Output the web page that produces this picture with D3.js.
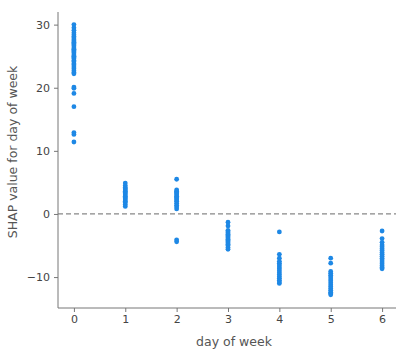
<!DOCTYPE html>
<html>
<head>
<meta charset="utf-8">
<script src="https://cdn.jsdelivr.net/npm/d3@7"></script>
<style>
  html, body { margin: 0; padding: 0; background: #fff; }
  svg { display: block; font-family: "DejaVu Sans", sans-serif; }
</style>
</head>
<body>
<svg id="chart" width="396" height="354"></svg>
<script>
// SHAP values for the "day of week" feature, grouped by day (0 = Monday ... 6 = Sunday)
const days = [0, 1, 2, 3, 4, 5, 6];
const shapDay0 = [30.0, 29.5, 29.1, 28.7, 28.4, 28.1, 27.9, 27.6, 27.4, 27.2, 27.0, 26.8, 26.6, 26.3, 26.1,
  25.9, 25.7, 25.5, 25.2, 25.0, 24.8, 24.6, 24.3, 24.1, 23.8, 23.6, 23.3, 23.0, 22.7, 22.4, 22.2,
  20.1, 19.9, 19.1, 17.0, 12.9, 12.6, 11.4];
const shapDay1 = [4.9, 4.5, 4.2, 4.0, 3.8, 3.6, 3.4, 3.2, 3.0, 2.8, 2.6, 2.4, 2.2, 2.0, 1.8, 1.5, 1.2];
const shapDay2 = [5.5, 3.8, 3.6, 3.4, 3.2, 3.0, 2.8, 2.6, 2.4, 2.2, 2.0, 1.7, 1.4, 1.1, 0.8, -4.1, -4.4];
const shapDay3 = [-1.3, -1.9, -2.6, -2.8, -3.0, -3.2, -3.4, -3.6, -3.8, -4.0, -4.2, -4.4, -4.6, -4.8, -5.0, -5.3, -5.6];
const shapDay4 = [-2.85, -6.4, -7.0, -7.5, -7.8, -8.1, -8.4, -8.7, -9.0, -9.3, -9.6, -9.9, -10.2, -10.5, -10.8, -11.0];
const shapDay5 = [-7.0, -7.8, -9.1, -9.4, -9.7, -10.0, -10.3, -10.6, -10.9, -11.2, -11.5, -11.8, -12.1, -12.4, -12.6, -12.8];
const shapDay6 = [-2.7, -3.9, -4.5, -4.9, -5.2, -5.5, -5.8, -6.1, -6.4, -6.7, -7.0, -7.3, -7.6, -7.9, -8.2, -8.5, -8.7];
const yTicks = [-10, 0, 10, 20, 30];

const seriesByDay = [shapDay0, shapDay1, shapDay2, shapDay3, shapDay4, shapDay5, shapDay6];
const points = [];
seriesByDay.forEach((vals, i) => vals.forEach(v => points.push({ day: days[i], shap: v })));

const svg = d3.select("#chart");
const plotLeft = 58, plotRight = 398, plotTop = 12, plotBottom = 308;

const x = d3.scaleLinear().domain([-0.31, 6.31]).range([plotLeft, plotRight]);
const y = d3.scaleLinear().domain([-14.9, 32.0]).range([plotBottom, plotTop]);

const axisColor = "#777";
const textColor = "#444";

// zero reference line
svg.append("line")
  .attr("x1", plotLeft).attr("x2", plotRight)
  .attr("y1", y(0)).attr("y2", y(0))
  .attr("stroke", "#888").attr("stroke-width", 1.3)
  .attr("stroke-dasharray", "5,3");

// points
svg.append("g").selectAll("circle")
  .data(points)
  .join("circle")
  .attr("cx", d => x(d.day))
  .attr("cy", d => y(d.shap))
  .attr("r", 2.4)
  .attr("fill", "#1E88E5");

// axes
const xAxis = svg.append("g")
  .attr("transform", `translate(0,${plotBottom})`)
  .call(d3.axisBottom(x).tickValues(days).tickSize(4).tickPadding(3).tickFormat(d3.format("d")));
const yAxis = svg.append("g")
  .attr("transform", `translate(${plotLeft},0)`)
  .call(d3.axisLeft(y).tickValues(yTicks).tickSize(4).tickPadding(4)
    .tickFormat(d => d < 0 ? "\u2212" + Math.abs(d) : d));

[xAxis, yAxis].forEach(g => {
  g.select(".domain").attr("stroke", axisColor).attr("stroke-width", 1);
  g.selectAll(".tick line").attr("stroke", axisColor);
  g.selectAll(".tick text").attr("fill", textColor).attr("font-size", 11)
    .attr("font-family", "DejaVu Sans, sans-serif");
});
xAxis.select(".domain").attr("d", `M${plotLeft},0H${plotRight}`);
yAxis.select(".domain").attr("d", `M0,${plotBottom}V${plotTop}`);

// axis titles
svg.append("text")
  .attr("x", 234).attr("y", 346)
  .attr("text-anchor", "middle")
  .attr("fill", "#555").attr("font-size", 12.5)
  .text("day of week");

svg.append("text")
  .attr("transform", "translate(17,152) rotate(-90)")
  .attr("text-anchor", "middle")
  .attr("fill", "#555").attr("font-size", 12.5)
  .text("SHAP value for day of week");
</script>
</body>
</html>
